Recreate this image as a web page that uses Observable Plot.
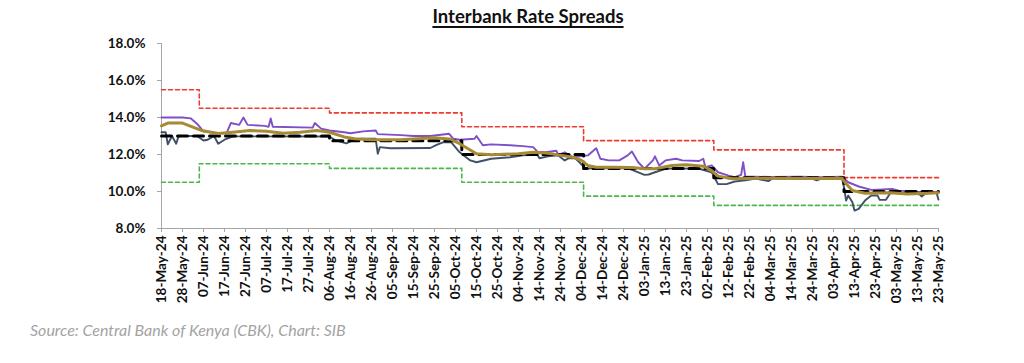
<!DOCTYPE html>
<html>
<head>
<meta charset="utf-8">
<script src="https://cdn.jsdelivr.net/npm/d3@7"></script>
<script src="https://cdn.jsdelivr.net/npm/@observablehq/plot@0.6"></script>
<style>
  html, body { margin: 0; padding: 0; background: #fff; width: 1024px; height: 363px; overflow: hidden; position: relative; }
  #title { position: absolute; left: 0; top: 5px; width: 1056px; text-align: center; font-family: Lato, sans-serif; font-weight: bold; font-size: 18.5px; color: #111; }
  #title span { text-decoration: underline; text-underline-offset: 3px; text-decoration-thickness: 1.5px; }
  #chart { position: absolute; left: 0; top: 32px; }
  #caption { position: absolute; left: 30px; top: 320px; font-family: Lato, sans-serif; font-style: italic; font-size: 16px; color: #a3a3a3; }
</style>
</head>
<body>
<div id="title"><span>Interbank Rate Spreads</span></div>
<div id="chart"></div>
<div id="caption">Source: Central Bank of Kenya (CBK), Chart: SIB</div>
<script>
// Policy / corridor step changes
const policyDates = ["2024-05-18","2024-06-05","2024-08-06","2024-10-08","2024-12-05","2025-02-05","2025-04-08","2025-05-23"];
const cbr        = [13.0, 13.0, 12.75, 12.0, 11.25, 10.75, 10.0, 10.0];
const upperBand  = [15.5, 14.5, 14.25, 13.5, 12.75, 12.25, 10.75, 10.75];
const lowerBand  = [10.5, 11.5, 11.25, 10.5, 9.75, 9.25, 9.25, 9.25];

// Purple series
const purpleDates = ["2024-05-18","2024-05-28","2024-06-01","2024-06-04","2024-06-07","2024-06-14","2024-06-18","2024-06-20","2024-06-24","2024-06-26","2024-06-28","2024-07-06","2024-07-08","2024-07-09","2024-07-10","2024-07-29","2024-07-30","2024-08-02","2024-08-06","2024-08-13","2024-08-16","2024-08-22","2024-08-28","2024-08-29","2024-09-09","2024-09-15","2024-09-23","2024-10-02","2024-10-04","2024-10-07","2024-10-14","2024-10-15","2024-10-18","2024-10-22","2024-10-31","2024-11-06","2024-11-11","2024-11-13","2024-11-17","2024-11-22","2024-11-23","2024-11-26","2024-11-30","2024-12-07","2024-12-11","2024-12-13","2024-12-17","2024-12-22","2024-12-26","2024-12-28","2024-12-31","2025-01-03","2025-01-07","2025-01-08","2025-01-10","2025-01-13","2025-01-18","2025-01-21","2025-01-29","2025-01-31","2025-02-01","2025-02-04","2025-02-07","2025-02-12","2025-02-15","2025-02-18","2025-02-19","2025-02-20","2025-03-04","2025-03-18","2025-03-28","2025-04-07","2025-04-10","2025-04-15","2025-04-21","2025-04-24","2025-05-01","2025-05-04","2025-05-16","2025-05-23"];
const purpleValues = [14.0,14.0,13.95,13.65,13.25,13.15,13.15,13.7,13.6,14.0,13.6,13.55,13.5,13.95,13.5,13.45,13.7,13.4,13.3,13.2,13.15,13.25,13.3,13.1,13.05,13.0,13.0,13.12,12.85,12.8,12.85,13.0,12.5,12.55,12.5,12.45,12.4,12.15,12.12,12.2,11.98,12.12,11.85,11.95,12.34,11.77,11.68,11.68,11.95,12.16,11.58,11.23,11.68,11.9,11.41,11.68,11.77,11.68,11.65,11.77,11.31,11.41,11.04,10.86,10.77,10.9,11.58,10.82,10.78,10.8,10.77,10.8,10.5,10.27,10.09,10.1,10.14,10.05,9.96,9.96];

// Gold (thick) series
const goldDates = ["2024-05-18","2024-05-21","2024-05-28","2024-06-06","2024-06-14","2024-06-21","2024-06-29","2024-07-07","2024-07-15","2024-07-23","2024-07-31","2024-08-06","2024-08-13","2024-08-18","2024-08-26","2024-09-09","2024-09-25","2024-10-03","2024-10-07","2024-10-11","2024-10-15","2024-10-22","2024-11-04","2024-11-11","2024-11-17","2024-11-23","2024-11-30","2024-12-04","2024-12-07","2024-12-11","2024-12-19","2024-12-28","2025-01-03","2025-01-08","2025-01-16","2025-01-23","2025-01-31","2025-02-04","2025-02-07","2025-02-14","2025-02-20","2025-03-03","2025-03-22","2025-04-07","2025-04-09","2025-04-12","2025-04-18","2025-04-30","2025-05-08","2025-05-18","2025-05-23"];
const goldValues = [13.55,13.7,13.7,13.3,13.13,13.2,13.3,13.26,13.15,13.2,13.3,13.2,12.95,12.85,12.8,12.8,12.9,12.82,12.58,12.31,12.04,11.98,12.04,12.12,12.08,11.98,11.85,11.68,11.41,11.31,11.31,11.3,11.23,11.23,11.41,11.44,11.37,11.13,10.83,10.69,10.7,10.72,10.7,10.72,10.42,10.05,9.91,9.93,9.87,9.9,9.93];

// Slate series
const slateDates = ["2024-05-18","2024-05-20","2024-05-21","2024-05-23","2024-05-25","2024-05-26","2024-05-27","2024-06-04","2024-06-07","2024-06-09","2024-06-12","2024-06-14","2024-06-17","2024-06-21","2024-08-06","2024-08-09","2024-08-14","2024-08-17","2024-08-21","2024-08-28","2024-08-29","2024-08-30","2024-09-04","2024-09-23","2024-09-26","2024-09-29","2024-10-03","2024-10-07","2024-10-12","2024-10-15","2024-10-22","2024-10-31","2024-11-06","2024-11-13","2024-11-14","2024-11-18","2024-11-23","2024-11-26","2024-11-28","2024-12-01","2024-12-03","2024-12-06","2024-12-09","2024-12-26","2025-01-03","2025-01-05","2025-01-08","2025-01-13","2025-01-19","2025-01-29","2025-02-04","2025-02-07","2025-02-11","2025-02-15","2025-02-20","2025-02-25","2025-03-03","2025-03-05","2025-03-23","2025-03-26","2025-03-29","2025-04-07","2025-04-08","2025-04-09","2025-04-10","2025-04-12","2025-04-13","2025-04-15","2025-04-18","2025-04-21","2025-04-24","2025-04-25","2025-04-28","2025-04-30","2025-05-08","2025-05-14","2025-05-15","2025-05-17","2025-05-22","2025-05-23"];
const slateValues = [13.2,13.2,12.55,13.0,12.58,12.95,13.0,13.0,12.76,12.8,13.0,12.58,12.8,12.98,12.97,12.76,12.6,12.76,12.85,12.85,12.04,12.4,12.34,12.35,12.52,12.66,12.66,12.12,11.68,11.58,11.77,11.85,11.95,11.98,11.8,11.9,11.95,11.68,11.8,11.8,11.58,11.23,11.26,11.26,10.9,10.92,11.04,11.23,11.25,11.23,11.04,10.4,10.4,10.54,10.6,10.7,10.56,10.72,10.72,10.6,10.72,10.72,10.23,9.51,9.78,9.42,8.97,9.06,9.51,9.78,9.78,9.55,9.55,9.91,9.91,9.85,9.73,9.9,9.96,9.56];

// Axis ticks
const xTickLabels = ["2024-05-18","2024-05-28","2024-06-07","2024-06-17","2024-06-27","2024-07-07","2024-07-17","2024-07-27","2024-08-06","2024-08-16","2024-08-26","2024-09-05","2024-09-15","2024-09-25","2024-10-05","2024-10-15","2024-10-25","2024-11-04","2024-11-14","2024-11-24","2024-12-04","2024-12-14","2024-12-24","2025-01-03","2025-01-13","2025-01-23","2025-02-02","2025-02-12","2025-02-22","2025-03-04","2025-03-14","2025-03-24","2025-04-03","2025-04-13","2025-04-23","2025-05-03","2025-05-13","2025-05-23"];
const yTicks = [8, 10, 12, 14, 16, 18];

const toRows = (dates, values) => dates.map((d, i) => ({date: new Date(d + "T00:00:00Z"), value: values[i]}));
const cbrRows = toRows(policyDates, cbr);
const upperRows = toRows(policyDates, upperBand);
const lowerRows = toRows(policyDates, lowerBand);
const purpleRows = toRows(purpleDates, purpleValues);
const goldRows = toRows(goldDates, goldValues);
const slateRows = toRows(slateDates, slateValues);
const xTicks = xTickLabels.map(d => new Date(d + "T00:00:00Z"));
const xStart = xTicks[0], xEnd = xTicks[xTicks.length - 1];
const fmtDate = d3.utcFormat("%d-%b-%y");

const chart = Plot.plot({
  width: 1024,
  height: 271,
  marginLeft: 161,
  marginRight: 86,
  marginTop: 11,
  marginBottom: 75,
  style: {fontFamily: "Lato, sans-serif", fontSize: "13.5px", fontWeight: "bold", color: "#111", background: "#fff"},
  x: {type: "utc", domain: [xStart, xEnd]},
  y: {domain: [8, 18]},
  marks: [
    Plot.ruleX([xStart], {stroke: "#a6a6a6", strokeWidth: 1}),
    Plot.ruleY([8], {stroke: "#a6a6a6", strokeWidth: 1}),
    Plot.axisY({ticks: yTicks, tickSize: 4, tickFormat: () => "", color: "#a6a6a6", label: null}),
    Plot.axisY({ticks: yTicks, tickSize: 0, tickPadding: 16, tickFormat: d => d.toFixed(1) + "%", label: null}),
    Plot.axisX({ticks: xTicks, tickSize: 4, tickFormat: () => "", color: "#a6a6a6", label: null}),
    Plot.axisX({ticks: xTicks, tickSize: 0, tickPadding: 7, tickRotate: -90, tickFormat: fmtDate, label: null}),
    Plot.line(upperRows, {x: "date", y: "value", curve: "step-after", stroke: "#f03a2e", strokeWidth: 1.6, strokeDasharray: "4,3"}),
    Plot.line(lowerRows, {x: "date", y: "value", curve: "step-after", stroke: "#4cb84c", strokeWidth: 1.6, strokeDasharray: "4,3"}),
    Plot.line(purpleRows, {x: "date", y: "value", stroke: "#7f4fc9", strokeWidth: 1.9}),
    Plot.line(slateRows, {x: "date", y: "value", stroke: "#3f5068", strokeWidth: 1.9}),
    Plot.line(cbrRows, {x: "date", y: "value", curve: "step-after", stroke: "#000", strokeWidth: 3, strokeDasharray: "10,6"}),
    Plot.line(goldRows, {x: "date", y: "value", stroke: "#a68a34", strokeWidth: 3})
  ]
});
document.getElementById("chart").appendChild(chart);
</script>
</body>
</html>
